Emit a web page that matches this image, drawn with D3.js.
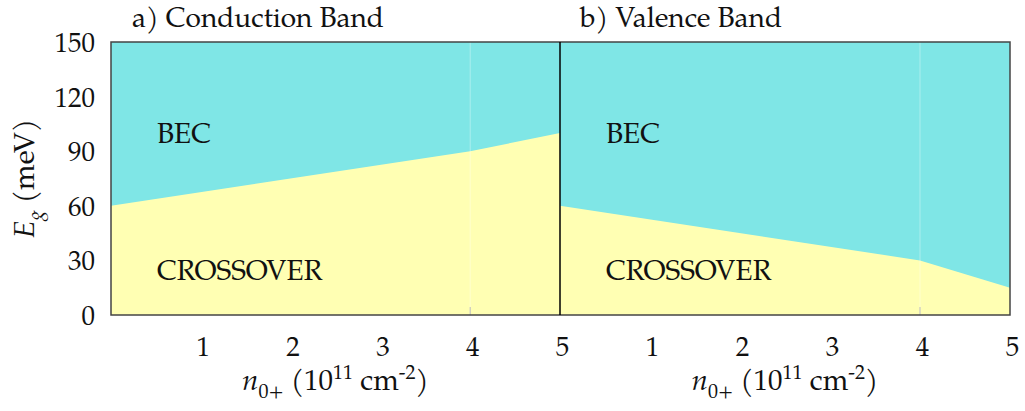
<!DOCTYPE html>
<html><head><meta charset="utf-8">
<script src="https://cdn.jsdelivr.net/npm/d3@7"></script>
<style>html,body{margin:0;padding:0;background:#fff;}</style>
</head>
<body><svg id="c" width="1025" height="411"></svg>
<script>
// ---- data ----
const panelTitles = ["a) Conduction Band", "b) Valence Band"];
const xTickValues = [1, 2, 3, 4, 5];
const yTickValues = [0, 30, 60, 90, 120, 150];
const condDensity = [0, 4, 5];
const condGap = [60, 90, 100];
const valDensity = [0, 4, 5];
const valGap = [60, 30, 15];
const regionLabels = ["BEC", "CROSSOVER"];

const FONT = "TeX Gyre Pagella, Liberation Serif, serif";
const pLeft = 111, pMid = 560, pRight = 1010, pTop = 42, pBottom = 315;
const svg = d3.select("#c").attr("font-family", FONT);
const y = d3.scaleLinear().domain([0, 150]).range([pBottom, pTop]);
const xA = d3.scaleLinear().domain([0, 5]).range([pLeft, pMid]);
const xB = d3.scaleLinear().domain([0, 5]).range([pMid, pRight]);
const cyan = "#7fe6e6", yellow = "#ffffb3", ink = "#111";

function panel(x, dens, gap, idx) {
  const g = svg.append("g");
  g.append("rect").attr("x", x(0)).attr("y", y(150)).attr("width", x(5) - x(0)).attr("height", y(0) - y(150)).attr("fill", cyan);
  const pts = dens.map((d, i) => [d, gap[i]]);
  const area = d3.area().x(d => x(d[0])).y0(y(0)).y1(d => y(d[1]));
  g.append("path").attr("d", area(pts)).attr("fill", yellow);
  g.append("line").attr("x1", x(4)).attr("x2", x(4)).attr("y1", y(150)).attr("y2", y(0))
    .attr("stroke", "#fff").attr("stroke-opacity", 0.35).attr("stroke-width", 1);
  g.append("line").attr("x1", x(4)).attr("x2", x(4)).attr("y1", y(0) - 8).attr("y2", y(0))
    .attr("stroke", "#bbb").attr("stroke-width", 1);
  const ax = d3.axisBottom(x).tickValues(xTickValues).tickSize(0).tickPadding(0).tickFormat(d3.format("d"));
  const axg = g.append("g").attr("transform", `translate(0,${pBottom})`).call(ax);
  axg.attr("font-family", FONT);
  axg.select(".domain").remove();
  axg.selectAll("text").attr("font-size", 27).attr("dy", 0).attr("y", 41).attr("dx", 2).attr("font-family", FONT).attr("fill", ink);
  g.append("text").attr("x", x(0) + (idx === 0 ? 21 : 20)).attr("y", 27).attr("font-size", 28).attr("fill", ink).attr("font-family", FONT).text(panelTitles[idx]);
  g.append("text").attr("x", x(0) + 46).attr("y", 143).attr("font-size", 28).attr("fill", ink).attr("font-family", FONT).text(regionLabels[0]);
  g.append("text").attr("x", x(0) + 46).attr("y", 280).attr("font-size", 28).attr("fill", ink).attr("font-family", FONT).text(regionLabels[1]);
  const t = g.append("text").attr("x", (x(0) + x(5)) / 2).attr("y", 390).attr("text-anchor", "middle")
    .attr("font-size", 29).attr("fill", ink).attr("font-family", FONT);
  t.append("tspan").attr("font-style", "italic").text("n");
  t.append("tspan").attr("font-size", 20).attr("dy", 8).text("0+");
  t.append("tspan").attr("dy", -8).text(" (10");
  t.append("tspan").attr("font-size", 20).attr("dy", -11).text("11");
  t.append("tspan").attr("dy", 11).text(" cm");
  t.append("tspan").attr("font-size", 20).attr("dy", -11).text("-2");
  t.append("tspan").attr("dy", 11).text(")");
}
panel(xA, condDensity, condGap, 0);
panel(xB, valDensity, valGap, 1);

const yax = d3.axisLeft(y).tickValues(yTickValues).tickSize(0).tickPadding(16).tickFormat(d3.format("d"));
const yg = svg.append("g").attr("transform", `translate(${pLeft},0)`).call(yax);
yg.attr("font-family", FONT);
yg.select(".domain").remove();
yg.selectAll("text").attr("font-size", 27).attr("dy", "0.35em").attr("font-family", FONT).attr("fill", ink);

const yt = svg.append("text").attr("transform", `translate(34,${(pTop + pBottom) / 2}) rotate(-90)`)
  .attr("text-anchor", "middle").attr("font-size", 29).attr("fill", ink).attr("font-family", FONT);
yt.append("tspan").attr("font-style", "italic").text("E");
yt.append("tspan").attr("font-style", "italic").attr("font-size", 20).attr("dy", 8).text("g");
yt.append("tspan").attr("dy", -8).text(" (meV)");

svg.append("rect").attr("x", pLeft).attr("y", pTop).attr("width", pRight - pLeft).attr("height", pBottom - pTop)
  .attr("fill", "none").attr("stroke", "#444").attr("stroke-width", 1.5);
svg.append("line").attr("x1", pMid).attr("x2", pMid).attr("y1", pTop).attr("y2", pBottom).attr("stroke", "#000").attr("stroke-width", 1.5);
</script></body></html>
